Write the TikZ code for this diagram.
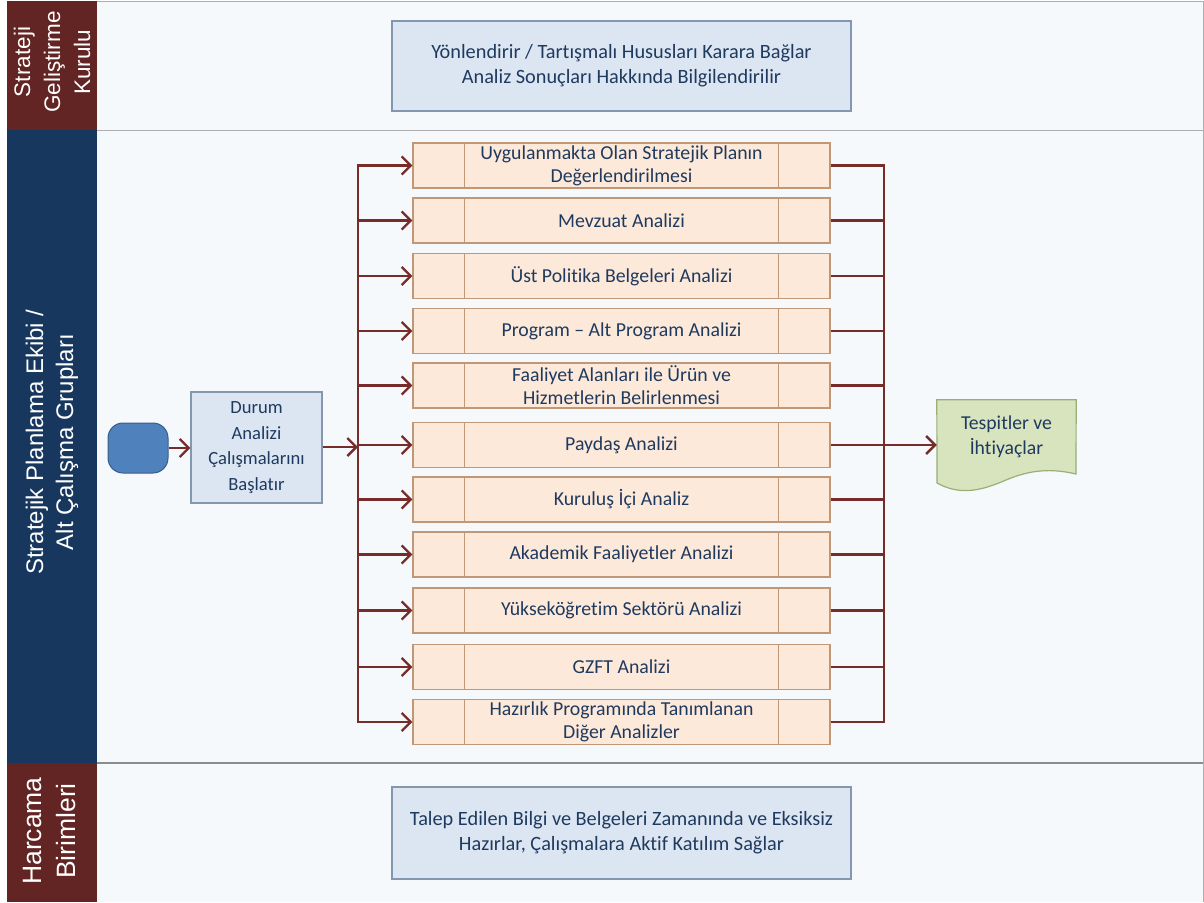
\documentclass[tikz,border=0pt]{standalone}
\usepackage{fontspec}
\setmainfont{Carlito}[Ligatures=NoCommon]
\newfontfamily\lanefont{Liberation Sans}
\usetikzlibrary{arrows.meta,calc}
\definecolor{procfill}{HTML}{FDE9D9}
\definecolor{procborder}{HTML}{C09878}
\definecolor{bluefill}{HTML}{DCE6F2}
\definecolor{blueborder}{HTML}{8497B0}
\definecolor{docfill}{HTML}{D7E4BD}
\definecolor{docborder}{HTML}{9AAE78}
\definecolor{flowc}{HTML}{772C2A}
\definecolor{startfill}{HTML}{4F81BD}
\definecolor{startborder}{HTML}{385D8A}
\definecolor{txt}{HTML}{1F3A5F}
\definecolor{lanered}{HTML}{632523}
\definecolor{laneblue}{HTML}{17375E}
\definecolor{bg}{HTML}{F5F9FC}
\definecolor{sepgray}{HTML}{8C8C8C}
\tikzset{
  procbox/.style={draw=procborder, fill=procfill, line width=1.2pt, minimum width=417pt, minimum height=45pt, text=txt, font=\fontsize{19.8}{23}\selectfont, align=center, inner sep=0pt},
  bluebox/.style={draw=blueborder, fill=bluefill, line width=1.2pt, text=txt, font=\fontsize{20.3}{25}\selectfont, align=center, inner sep=0pt},
  lanehead/.style={text=white, align=center, rotate=90},
  flow/.style={draw=flowc, line width=2.4pt, line join=miter},
  flowa/.style={flow, -{Straight Barb[length=9pt,width=18pt,line width=2.4pt]}},
}
\begin{document}
\begin{tikzpicture}[x=1pt,y=-1pt]
\useasboundingbox (0,0) rectangle (1204,902);
% lanes background
\fill[white] (0,0) rectangle (1204,902);
\fill[bg] (97,1) rectangle (1204,902);
\fill[lanered] (7,1) rectangle (97,130);
\fill[laneblue] (7,130) rectangle (97,763);
\fill[lanered] (7,763) rectangle (97,902);
\draw[sepgray!70, line width=1pt] (97,1) -- (1204,1);
\draw[sepgray!70, line width=1pt] (97,130) -- (1204,130);
\draw[sepgray, line width=2pt] (97,763) -- (1204,763);
\draw[sepgray!70, line width=1pt] (1203.5,1) -- (1203.5,902);
\node[lanehead, font=\lanefont\fontsize{22.5}{30}\selectfont] (h1) at (52,62) {Strateji\\Geliştirme\\Kurulu};
\node[lanehead, font=\lanefont\fontsize{24}{30}\selectfont] (h2) at (52,442) {Stratejik Planlama Ekibi /\\Alt Çalışma Grupları};
\node[lanehead, font=\lanefont\fontsize{26.5}{34}\selectfont] (h3) at (50,831) {Harcama\\Birimleri};
% top and bottom boxes
\node[bluebox, minimum width=459pt, minimum height=90pt] (top) at (621.5,66) {Yönlendirir / Tartışmalı Hususları Karara Bağlar\\Analiz Sonuçları Hakkında Bilgilendirilir};
\node[bluebox, minimum width=459pt, minimum height=92pt] (bot) at (621.5,833) {Talep Edilen Bilgi ve Belgeleri Zamanında ve Eksiksiz\\Hazırlar, Çalışmalara Aktif Katılım Sağlar};
% start and durum
\node[draw=startborder, fill=startfill, line width=1pt, rounded corners=15pt, minimum width=60pt, minimum height=50pt, inner sep=0pt] (start) at (138,448) {};
\node[bluebox, font=\fontsize{18.6}{25.5}\selectfont, minimum width=131pt, minimum height=111pt] (durum) at (256.5,447.5) {Durum\\Analizi\\Çalışmalarını\\Başlatır};
% process boxes
\node[procbox] (b1) at (621.5,165.5) {Uygulanmakta Olan Stratejik Planın\\Değerlendirilmesi};
\node[procbox] (b2) at (621.5,220.5) {Mevzuat Analizi};
\node[procbox] (b3) at (621.5,276) {Üst Politika Belgeleri Analizi};
\node[procbox] (b4) at (621.5,331) {Program – Alt Program Analizi};
\node[procbox] (b5) at (621.5,385.5) {Faaliyet Alanları ile Ürün ve\\Hizmetlerin Belirlenmesi};
\node[procbox] (b6) at (621.5,445) {Paydaş Analizi};
\node[procbox] (b7) at (621.5,499.5) {Kuruluş İçi Analiz};
\node[procbox] (b8) at (621.5,554.5) {Akademik Faaliyetler Analizi};
\node[procbox] (b9) at (621.5,610.5) {Yükseköğretim Sektörü Analizi};
\node[procbox] (b10) at (621.5,667) {GZFT Analizi};
\node[procbox] (b11) at (621.5,722) {Hazırlık Programında Tanımlanan\\Diğer Analizler};
\foreach \b in {b1,b2,b3,b4,b5,b6,b7,b8,b9,b10,b11}{
  \draw[procborder, line width=1.2pt] ([xshift=52pt]\b.north west) -- ([xshift=52pt]\b.south west);
  \draw[procborder, line width=1.2pt] ([xshift=-52pt]\b.north east) -- ([xshift=-52pt]\b.south east);
}
% document
\node[minimum width=139pt, minimum height=83pt, inner sep=0pt] (doc) at (1006.5,441.5) {};
\fill[docfill] (doc.north west) -- (doc.north east) -- (1076,474)
  .. controls (1050,468) and (1030,470) .. (1006,480)
  .. controls (985,489) and (962,497) .. (937,483) -- cycle;
\draw[docborder, line width=1.2pt] (doc.north west) -- (doc.north east) -- (1076,474)
  .. controls (1050,468) and (1030,470) .. (1006,480)
  .. controls (985,489) and (962,497) .. (937,483) -- cycle;
\node[text=txt, font=\fontsize{19.7}{25}\selectfont, align=center] (doctext) at (1006.5,437) {Tespitler ve\\İhtiyaçlar};
% connectors
\coordinate (split) at (358,447);
\coordinate (merge) at (884,446);
\draw[flowa] (start.east) -- (start.east -| durum.west);
\draw[flowa] (durum.east |- split) -- (split);
\draw[flowa] (split) |- (b1.west);
\draw[flowa] (split) |- (b11.west);
\foreach \b in {b2,b3,b4,b5,b6,b7,b8,b9,b10}{
  \draw[flowa] (split |- \b.west) -- (\b.west);
}
\draw[flow] (b1.east) -| (merge);
\draw[flow] (b11.east) -| (merge);
\foreach \b in {b2,b3,b4,b5,b7,b8,b9,b10}{
  \draw[flow] (\b.east) -- (\b.east -| merge);
}
\draw[flowa] (b6.east) -- (b6.east -| doc.west);
\end{tikzpicture}
\end{document}
